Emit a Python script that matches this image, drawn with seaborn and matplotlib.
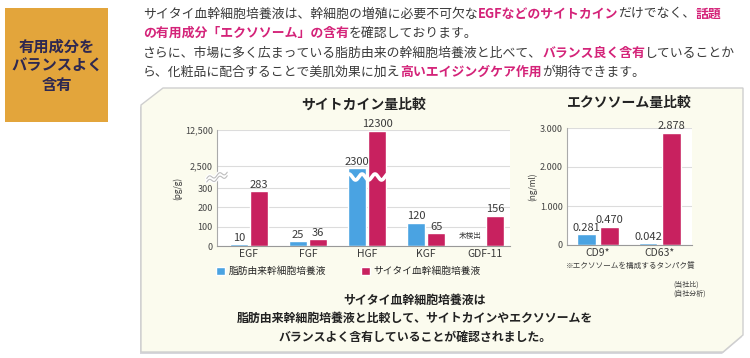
import matplotlib
matplotlib.use('Agg')
import numpy as np
import pandas as pd
import matplotlib.pyplot as plt
from matplotlib.patches import Polygon, Rectangle
import seaborn as sns

# ---- data ----
cyto_cats = ['EGF', 'FGF', 'HGF', 'KGF', 'GDF-11']
adipose_cyto = [10, 25, 2300, 120, np.nan]   # GDF-11: 未検出
saitai_cyto = [283, 36, 12300, 65, 156]
cyto_ticks = [0, 100, 200, 300, 2500, 12500]

exo_cats = ['CD9*', 'CD63*']
adipose_exo = [0.281, 0.042]
saitai_exo = [0.470, 2.878]
exo_ticks = [0, 1, 2, 3]

name_a = '脂肪由来幹細胞培養液'
name_s = 'サイタイ血幹細胞培養液'

BLUE = '#4aa3e2'
PINK = '#c8215f'
HL = '#d42379'
DARK = '#3a3a3a'

W, H = 750, 358


def fx(x):
    return x / W


def fy(y):
    return 1 - y / H


sns.set_style('white')
plt.rcParams['font.family'] = ['Noto Sans CJK JP', 'DejaVu Sans']

fig = plt.figure(figsize=(7.5, 3.58), dpi=100)
fig.patch.set_facecolor('white')
renderer = fig.canvas.get_renderer()

# orange label box
fig.add_artist(Rectangle((fx(5), fy(122)), fx(103), 114 / H, transform=fig.transFigure,
                         facecolor='#e3a53b', edgecolor='none', zorder=-2))
for txt, yy in [('有用成分を', 47), ('バランスよく', 66), ('含有', 85)]:
    fig.text(fx(57), fy(yy), txt, ha='center', va='center', fontsize=11,
             fontweight='bold', color='#2e2850')


def rich_line(x, y, parts, size=9.25):
    x = fx(x)
    for s, c, bold in parts:
        t = fig.text(x, fy(y), s, color=c, fontsize=size,
                     fontweight='bold' if bold else 'normal', ha='left', va='center')
        bb = t.get_window_extent(renderer)
        x = bb.x1 / fig.bbox.width


rich_line(143, 14, [('サイタイ血幹細胞培養液は、幹細胞の増殖に必要不可欠な', DARK, False),
                    ('EGFなどのサイトカイン', HL, True),
                    ('だけでなく、', DARK, False),
                    ('話題', HL, True)])
rich_line(143, 33, [('の有用成分「エクソソーム」の含有', HL, True),
                    ('を確認しております。', DARK, False)])
rich_line(143, 53, [('さらに、市場に多く広まっている脂肪由来の幹細胞培養液と比べて、', DARK, False),
                    ('バランス良く含有', HL, True),
                    ('していることか', DARK, False)])
rich_line(143, 72, [('ら、化粧品に配合することで美肌効果に加え', DARK, False),
                    ('高いエイジングケア作用', HL, True),
                    ('が期待できます。', DARK, False)])

# cream panel with chamfered corners
pts = [(141, 105), (163, 88), (743, 88), (743, 335), (723, 352), (141, 352)]
shadow = Polygon([(fx(x - 1), fy(y + 2)) for x, y in pts], closed=True, transform=fig.transFigure,
                 facecolor='#d6d6dc', edgecolor='none', zorder=-2)
panel = Polygon([(fx(x), fy(y)) for x, y in pts], closed=True, transform=fig.transFigure,
                facecolor='#fbfbee', edgecolor='#cfcfcf', lw=1.0, zorder=-1)
fig.add_artist(shadow)
fig.add_artist(panel)

# ---- cytokine chart (broken y axis via function scale) ----
brk_vals = [0, 300, 2500, 12500]
brk_px = [0, 58, 80, 116]


def fwd(v):
    return np.interp(v, brk_vals, brk_px)


def inv(p):
    return np.interp(p, brk_px, brk_vals)


cyto_df = pd.DataFrame({
    'cat': cyto_cats * 2,
    'val': adipose_cyto + saitai_cyto,
    'src': [name_a] * len(cyto_cats) + [name_s] * len(cyto_cats),
})

ax1 = fig.add_axes([fx(217), fy(246), (510 - 217) / W, (246 - 130) / H])
ax1.set_facecolor('white')
ax1.set_yscale('function', functions=(fwd, inv))
sns.barplot(data=cyto_df, x='cat', y='val', hue='src', hue_order=[name_a, name_s],
            palette=[BLUE, PINK], width=0.68, gap=0.12, saturation=1, ax=ax1)
ax1.set_ylim(0, 12500)
ax1.set_xlim(-0.54, 4.42)
ax1.set_yticks(cyto_ticks)
ax1.set_yticklabels([f'{t:,}' for t in cyto_ticks])
for c in ax1.containers:
    ax1.bar_label(c, fmt=lambda v: '' if np.isnan(v) else f'{v:.0f}', padding=1,
                  fontsize=8, color=DARK)
ax1.annotate('未検出', xy=(4, 0), xytext=(-11, 4), textcoords='offset points',
             ha='center', va='bottom', fontsize=5.5, color=DARK)

# wavy break across HGF bars
wx = np.linspace(2 - 0.36, 2 + 0.36, 200)
wp = 69 + 3 * np.sin((wx - wx[0]) / 0.22 * 2 * np.pi)
ax1.plot(wx, inv(wp), color='white', lw=2.6, solid_capstyle='butt', zorder=5)

# break mark on the y axis (x in axes fraction, y through the broken scale)
bx = np.linspace(-0.035, 0.035, 60)
ytr = ax1.get_yaxis_transform()
for off in (0, 3.5):
    by = inv(64 + off + 1.8 * np.sin((bx - bx[0]) / 0.035 * 2 * np.pi) + (bx - bx[0]) * 90)
    ax1.plot(bx, by, color='white', lw=2.6, clip_on=False, zorder=4, transform=ytr)
    ax1.plot(bx, by, color='#bdbdbd', lw=0.8, clip_on=False, zorder=6, transform=ytr)

ax1.set_title('サイトカイン量比較', fontsize=10, fontweight='bold', color='#222', pad=15)
ax1.set_ylabel('(pg/g)', fontsize=6, color=DARK, labelpad=2)
ax1.set_xlabel('')

# ---- exosome chart ----
exo_df = pd.DataFrame({
    'cat': exo_cats * 2,
    'val': adipose_exo + saitai_exo,
    'src': [name_a] * len(exo_cats) + [name_s] * len(exo_cats),
})
ax2 = fig.add_axes([fx(567), fy(245), (692 - 567) / W, (245 - 128) / H])
ax2.set_facecolor('white')
sns.barplot(data=exo_df, x='cat', y='val', hue='src', hue_order=[name_a, name_s],
            palette=[BLUE, PINK], width=0.76, gap=0.2, saturation=1, ax=ax2, legend=False)
ax2.set_ylim(0, 3)
ax2.set_xlim(-0.5, 1.52)
ax2.set_yticks(exo_ticks)
ax2.set_yticklabels(['0'] + [f'{t}.000' for t in exo_ticks[1:]])
for c in ax2.containers:
    ax2.bar_label(c, fmt='{:.3f}', padding=1, fontsize=8, color=DARK)
ax2.set_title('エクソソーム量比較', fontsize=10, fontweight='bold', color='#222', pad=15)
ax2.set_ylabel('(ng/ml)', fontsize=6, color=DARK, labelpad=2)
ax2.set_xlabel('')

for ax in (ax1, ax2):
    sns.despine(ax=ax)
    ax.grid(axis='y', color='#dcdcdc', lw=0.8)
    ax.set_axisbelow(True)
    ax.spines['left'].set_color('#aaaaaa')
    ax.spines['bottom'].set_color('#999999')
    ax.tick_params(axis='y', length=0, labelsize=6.5, colors='#444444', pad=3)
    ax.tick_params(axis='x', length=0, labelsize=7.5, colors=DARK, pad=2)

# legend
handles, labels = ax1.get_legend_handles_labels()
ax1.get_legend().remove()
fig.legend(handles, labels, loc='center left', bbox_to_anchor=(fx(216), fy(271)), ncol=2,
           frameon=False, fontsize=7, handlelength=0.9, handleheight=0.9,
           handletextpad=0.4, columnspacing=3.6, borderpad=0, borderaxespad=0)

fig.text(fx(631), fy(266), '※エクソソームを構成するタンパク質', ha='center', va='center',
         fontsize=5.5, color=DARK)
fig.text(fx(673), fy(285), '(当社比)', ha='left', va='center', fontsize=5, color=DARK)
fig.text(fx(673), fy(294), '(自社分析)', ha='left', va='center', fontsize=5, color=DARK)

for txt, yy in [('サイタイ血幹細胞培養液は', 300),
                ('脂肪由来幹細胞培養液と比較して、サイトカインやエクソソームを', 318),
                ('バランスよく含有していることが確認されました。', 337)]:
    fig.text(fx(415), fy(yy), txt, ha='center', va='center', fontsize=8.6,
             fontweight='bold', color='#222222')

fig.savefig('out.png', dpi=100)
